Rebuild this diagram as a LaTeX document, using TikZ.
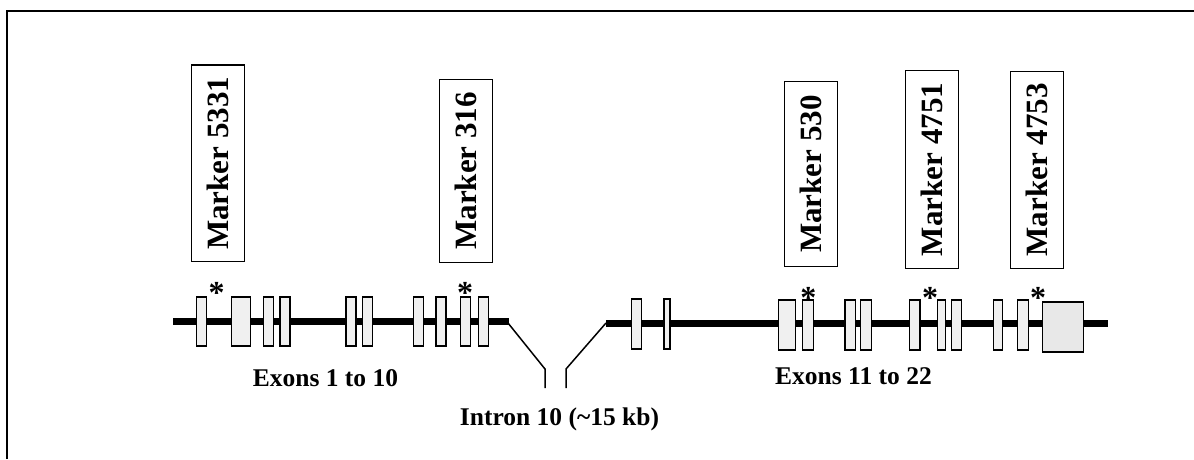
\documentclass[tikz,border=0pt]{standalone}
\usepackage{fontspec}
\setmainfont{Liberation Serif}
\begin{document}
\begin{tikzpicture}[x=1pt,y=-1pt,
  exon/.style={draw=black, line width=1.3pt, fill=gray!12, inner sep=0pt, minimum height=49pt},
  exonR/.style={exon, minimum height=50pt},
  markerbox/.style={draw=black, line width=1.4pt, rotate=90, inner sep=0pt, minimum height=53pt,
    font=\fontsize{31}{34}\selectfont\bfseries},
  lbl/.style={font=\fontsize{25.5}{30}\selectfont\bfseries, inner sep=0pt},
  star/.style={font=\fontsize{32}{34}\selectfont\bfseries, inner sep=0pt, anchor=base},
  backbone/.style={line width=7pt},
  link/.style={line width=1.5pt}]
\useasboundingbox (0,0) rectangle (1194,459);
% frame (left and top only)
\coordinate (f1) at (7,459);
\coordinate (f2) at (7,11);
\coordinate (f3) at (1194,11);
\draw[line width=2.2pt] (f1) -- (f2) -- (f3);
% backbone
\coordinate (bL1) at (173,321.5);
\coordinate (bL2) at (509,321.5);
\coordinate (bR1) at (606,323);
\coordinate (bR2) at (1108,323);
\draw[backbone] (bL1) -- (bL2);
\draw[backbone] (bR1) -- (bR2);
% intron connector
\coordinate (iL1) at (508,323);
\coordinate (iL2) at (545,369);
\coordinate (iL3) at (545,388);
\coordinate (iR1) at (606,323);
\coordinate (iR2) at (566,369);
\coordinate (iR3) at (566,388);
\draw[link] (iL1) -- (iL2) -- (iL3);
\draw[link] (iR1) -- (iR2) -- (iR3);
% exons 1-10
\node[exon, minimum width=10pt] (e1) at (201.7,321.5) {};
\node[exon, minimum width=19pt] (e2) at (241.2,321.5) {};
\node[exon, minimum width=10pt] (e3) at (268.3,321.5) {};
\node[exon, minimum width=10pt] (e4) at (285,321.5) {};
\node[exon, minimum width=10pt] (e5) at (351,321.5) {};
\node[exon, minimum width=10pt] (e6) at (367.3,321.5) {};
\node[exon, minimum width=10pt] (e7) at (418.3,321.5) {};
\node[exon, minimum width=10pt] (e8) at (441,321.5) {};
\node[exon, minimum width=10pt] (e9) at (465.7,321.5) {};
\node[exon, minimum width=10pt] (e10) at (483.3,321.5) {};
% exons 11-22
\node[exonR, minimum width=10pt] (e11) at (636.7,324) {};
\node[exonR, minimum width=6pt] (e12) at (667,324) {};
\node[exonR, minimum width=17pt] (e13) at (786.7,325) {};
\node[exonR, minimum width=11pt] (e14) at (807.8,325) {};
\node[exonR, minimum width=10.5pt] (e15) at (850.3,325) {};
\node[exonR, minimum width=11pt] (e16) at (866.2,325) {};
\node[exonR, minimum width=10.5pt] (e17) at (914.7,325) {};
\node[exonR, minimum width=8pt] (e18) at (941.2,325) {};
\node[exonR, minimum width=10pt] (e19) at (956.7,325) {};
\node[exonR, minimum width=9pt] (e20) at (997.8,325) {};
\node[exonR, minimum width=10.5pt] (e21) at (1023,325) {};
\node[exonR, minimum width=41pt, fill=gray!18] (e22) at (1063,327) {};
% asterisks
\node[star] (s1) at (216.7,303) {*};
\node[star] (s2) at (465,303) {*};
\node[star] (s3) at (808.3,308) {*};
\node[star] (s4) at (930,308) {*};
\node[star] (s5) at (1038,308) {*};
% markers
\node[markerbox, minimum width=196.7pt] (m1) at (218,163.3) {Marker 5331};
\node[markerbox, minimum width=183pt] (m2) at (465.8,170.8) {Marker 316};
\node[markerbox, minimum width=185pt] (m3) at (810.7,174.2) {Marker 530};
\node[markerbox, minimum width=197.6pt] (m4) at (932,169.5) {Marker 4751};
\node[markerbox, minimum width=196.6pt] (m5) at (1036.7,170) {Marker 4753};
% labels
\node[lbl] (t1) at (325.5,378) {Exons 1 to 10};
\node[lbl] (t2) at (853.5,376) {Exons 11 to 22};
\node[lbl] (t3) at (559.5,419) {Intron 10 (\textasciitilde15 kb)};
\end{tikzpicture}
\end{document}
